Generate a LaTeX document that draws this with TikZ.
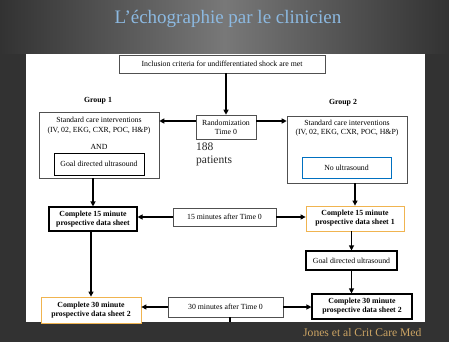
\documentclass[tikz,border=0pt]{standalone}
\usepackage{fontspec}
\setmainfont{Liberation Serif}
\usetikzlibrary{arrows.meta}
\definecolor{bgdark}{RGB}{50,50,50}
\definecolor{bgmid}{RGB}{120,120,120}
\definecolor{titleblue}{RGB}{140,185,225}
\definecolor{refgold}{RGB}{205,165,100}
\definecolor{boxgray}{RGB}{80,80,80}
\definecolor{usblue}{RGB}{0,112,192}
\definecolor{sheetorange}{RGB}{240,180,80}
\begin{document}
\begin{tikzpicture}[x=1pt,y=-1pt,
  sz/.style 2 args={minimum width=#1pt, minimum height=#2pt},
  box/.style={draw=boxgray, line width=0.6pt, fill=white, inner sep=0pt, align=center, font=\fontsize{7.8}{9}\selectfont},
  boldbox/.style={box, draw=black, line width=1.1pt, font=\fontsize{7.8}{9}\selectfont\bfseries},
  orangebox/.style={boldbox, draw=sheetorange, line width=0.8pt},
  txt/.style={inner sep=0pt, align=center, font=\fontsize{7.8}{9}\selectfont},
  grp/.style={inner sep=0pt, font=\fontsize{7.8}{9}\selectfont\bfseries},
  arr/.style={-{Triangle[length=5pt,width=5pt]}, line width=1.1pt},
  plain/.style={line width=1.1pt}]
\useasboundingbox (0,0) rectangle (449,342);
% background
\fill[bgdark] (0,0) rectangle (449,342);
\shade[left color=bgdark, right color=bgdark, middle color=bgmid] (0,0) rectangle (449,54);
\fill[white] (26,54) rectangle (425,322);
% title and reference
\node[text=titleblue, font=\fontsize{19}{22}\selectfont] (title) at (228,19) {L’échographie par le clinicien};
\node[text=refgold, anchor=west, inner sep=0pt, font=\fontsize{11.6}{13}\selectfont] (ref) at (303,333) {Jones et al Crit Care Med};
% boxes
\node[box, sz={206}{18}] (incl) at (222,64) {Inclusion criteria for undifferentiated shock are met};
\node[box, sz={60}{24}] (rand) at (226,127) {Randomization\\Time 0};
\node[inner sep=0pt, anchor=north west, align=left, text=black!85, font=\fontsize{11.5}{12.5}\selectfont] (pat) at (196,143) {188\\patients};
\node[grp] (g1lab) at (98,101) {Group 1};
\node[grp] (g2lab) at (343,103) {Group 2};
\node[box, sz={120}{66}] (g1) at (99,145) {};
\node[txt] (g1a) at (99,120) {Standard care interventions};
\node[txt] (g1b) at (99,131) {(IV, 02, EKG, CXR, POC, H\&P)};
\node[txt] (g1and) at (99,147) {AND};
\node[box, draw=black, line width=0.9pt, sz={90}{22}] (g1us) at (99,164) {Goal directed ultrasound};
\node[box, sz={120}{67}] (g2) at (347,149.5) {};
\node[txt] (g2a) at (347,123) {Standard care interventions};
\node[txt] (g2b) at (347,133) {(IV, 02, EKG, CXR, POC, H\&P)};
\node[box, draw=usblue, line width=0.9pt, sz={89}{21}] (g2us) at (346.5,167.5) {No ultrasound};
\node[boldbox, sz={88}{24}] (L15) at (93,219) {Complete 15 minute\\prospective data sheet};
\node[box, sz={103}{18}] (T15) at (224.5,217) {15 minutes after Time 0};
\node[orangebox, sz={98}{25}] (R15) at (355,218.5) {Complete 15 minute\\prospective data sheet 1};
\node[boldbox, font=\fontsize{7.8}{9}\selectfont, sz={91}{19}] (Rgoal) at (351.5,260.5) {Goal directed ultrasound};
\node[boldbox, sz={100}{25}] (R30) at (362,306.5) {Complete 30 minute\\prospective data sheet 2};
\node[orangebox, sz={100}{26}] (L30) at (91,310) {Complete 30 minute\\prospective data sheet 2};
\node[box, sz={115}{20}] (T30) at (225.5,307) {30 minutes after Time 0};
\coordinate (T30end) at (230,322);
% connectors
\draw[arr] (rand.north |- incl.south) -- (rand.north);
\draw[arr] ([yshift=6pt]rand.west) -- ([yshift=6pt]rand.west -| g1.east);
\draw[arr] ([yshift=6pt]rand.east) -- ([yshift=6pt]rand.east -| g2.west);
\draw[arr] (L15.north |- g1.south) -- (L15.north);
\draw[arr] (T15.west) -- (T15.west -| L15.east);
\draw[arr] (T15.east) -- (T15.east -| R15.west);
\draw[arr] (R15.north |- g2.south) -- (R15.north);
\draw[arr] (Rgoal.north |- R15.south) -- (Rgoal.north);
\draw[arr] (Rgoal.south) -- (Rgoal.south |- R30.north);
\draw[arr] (L30.north |- L15.south) -- (L30.north);
\draw[arr] (T30.west) -- (T30.west -| L30.east);
\draw[arr] (T30.east) -- (T30.east -| R30.west);
\draw[plain] (T30.south -| T30end) -- (T30end);
\end{tikzpicture}
\end{document}
